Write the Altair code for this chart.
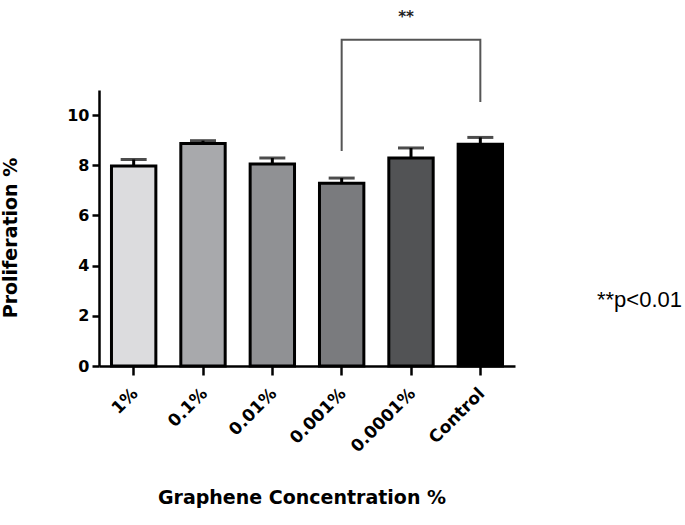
import altair as alt
import pandas as pd

categories = ["1%", "0.1%", "0.01%", "0.001%", "0.0001%", "Control"]
means = [7.97, 8.87, 8.05, 7.28, 8.29, 8.84]
upper = [8.23, 8.98, 8.29, 7.49, 8.69, 9.11]
fills = ["#dcdcde", "#a8a9ac", "#909194", "#7a7b7e", "#525355", "#000000"]

bracket_x = ["0.001%", "0.001%", "Control", "Control"]
bracket_y = [8.57, 13.0, 13.0, 10.52]
bracket_order = [0, 1, 2, 3]
sig_label = ["**"]
sig_x = ["0.0001%"]
sig_y = [13.9]
note = ["**p<0.01"]

df = pd.DataFrame({"cat": categories, "mean": means, "upper": upper})
br = pd.DataFrame({"cat": bracket_x, "y": bracket_y, "o": bracket_order})
sig = pd.DataFrame({"cat": sig_x, "y": sig_y, "t": sig_label})
nt = pd.DataFrame({"t": note})

FONT = "DejaVu Sans"
xscale = alt.Scale(domain=categories, paddingInner=0.36, paddingOuter=0.18)
yscale = alt.Scale(domain=[0, 11], nice=False, zero=True)

xaxis = alt.Axis(
    title="Graphene Concentration %", titleFont=FONT, titleFontWeight="bold",
    titleFontSize=19, titleColor="black", titleX=202.5, titleY=137,
    titleBaseline="alphabetic", titleAlign="center",
    labelAngle=-45, labelAlign="right", labelBaseline="top", labelOffset=-4,
    labelPadding=10, labelFont=FONT, labelFontWeight="bold", labelFontSize=17,
    labelColor="black", tickSize=9, tickWidth=2.5, tickColor="black",
    domainColor="black", domainWidth=2.5, grid=False,
)
yaxis = alt.Axis(
    values=[0, 2, 4, 6, 8, 10], title="Proliferation %", titleFont=FONT,
    titleFontWeight="bold", titleFontSize=19, titleColor="black",
    titleX=-88.5, titleY=147.5, titleAngle=-90, titleAlign="center",
    titleBaseline="middle", labelFont=FONT, labelFontWeight="bold",
    labelFontSize=16, labelColor="black", labelPadding=3, tickSize=7,
    tickWidth=2.5, tickColor="black", domainColor="black", domainWidth=2.5,
    grid=False,
)

def X():
    return alt.X("cat:N", scale=xscale, axis=xaxis, sort=categories)

def Y(field):
    return alt.Y(field, scale=yscale, axis=yaxis)

bars = alt.Chart(df).mark_bar(stroke="black", strokeWidth=3).encode(
    x=X(), y=Y("mean:Q"),
    color=alt.Color("cat:N", scale=alt.Scale(domain=categories, range=fills), legend=None),
)
err = alt.Chart(df).mark_rule(strokeWidth=3, color="black").encode(
    x=X(), y=Y("mean:Q"), y2="upper:Q",
)
cap = alt.Chart(df).mark_tick(orient="horizontal", size=26, thickness=3, color="black").encode(
    x=X(), y=Y("upper:Q"),
)
bracket = alt.Chart(br).mark_line(color="#555555", strokeWidth=2).encode(
    x=X(), y=Y("y:Q"), order="o:Q",
)
stars = alt.Chart(sig).mark_text(font=FONT, fontWeight="bold", fontSize=15, color="#222222",
                                 baseline="middle", dx=-5).encode(
    x=X(), y=Y("y:Q"), text="t:N",
)
ann = alt.Chart(nt).mark_text(font="Liberation Sans", fontSize=22, color="black",
                              align="left", baseline="alphabetic").encode(
    x=alt.value(498), y=alt.value(217), text="t:N",
)

chart = alt.layer(bars, err, cap, bracket, stars, ann).properties(
    width=416, height=276, autosize="none",
    padding={"left": 99, "top": 90, "right": 170, "bottom": 159},
).configure_view(stroke=None)

chart.save("out.html", embed_options={"renderer": "svg", "actions": False})
